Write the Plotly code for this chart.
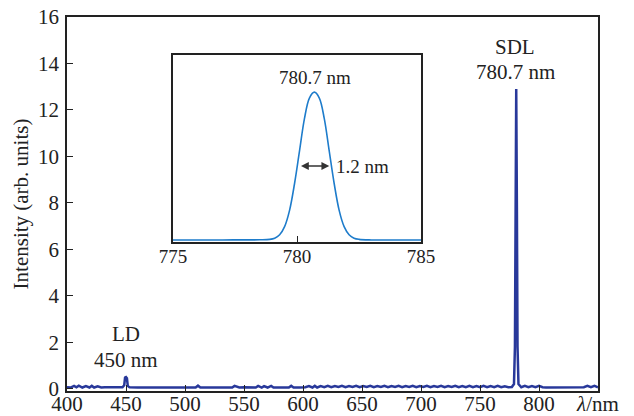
import plotly.graph_objects as go

# ---------------- data ----------------
main_wl = [400, 403, 406, 408, 410, 413, 416, 419, 421, 423, 426, 429, 432, 438, 444, 447, 448.5, 449.2, 450, 450.8, 451.5, 453,
           460, 475, 490, 505, 509, 511, 513, 525, 535, 540, 542, 546, 550, 556, 560, 562, 565, 567, 570, 573, 575, 580,
           588, 590, 592, 597, 602, 605, 608, 610, 612, 615, 618, 621, 624, 627, 630, 633, 636, 639, 642, 645, 648, 651,
           654, 657, 660, 663, 666, 669, 672, 675, 678, 681, 684, 687, 690, 693, 696, 699, 702, 705, 708, 711, 714, 717,
           720, 723, 726, 729, 732, 735, 738, 741, 744, 747, 750, 753, 756, 759, 762, 765, 768, 771, 774, 777, 778.8,
           779.6, 780.1, 780.7, 781.3, 781.8, 782.6, 785, 788, 791, 794, 797, 800, 803, 806, 812, 820, 830, 838, 841, 844, 847, 850]
main_int = [0.06, 0.05, 0.12, 0.06, 0.13, 0.05, 0.11, 0.05, 0.12, 0.05, 0.10, 0.05, 0.06, 0.05, 0.06, 0.06, 0.15, 0.48, 0.5, 0.45, 0.12, 0.06,
            0.05, 0.05, 0.05, 0.05, 0.05, 0.13, 0.05, 0.05, 0.05, 0.05, 0.12, 0.05, 0.06, 0.05, 0.05, 0.12, 0.05, 0.11, 0.05, 0.12, 0.05, 0.05,
            0.05, 0.12, 0.05, 0.05, 0.06, 0.11, 0.05, 0.12, 0.05, 0.11, 0.06, 0.12, 0.06, 0.11, 0.07, 0.12, 0.06, 0.11, 0.07, 0.12, 0.06, 0.11,
            0.07, 0.12, 0.06, 0.11, 0.07, 0.12, 0.06, 0.11, 0.07, 0.12, 0.06, 0.11, 0.07, 0.12, 0.06, 0.11, 0.07, 0.12, 0.06, 0.11, 0.07, 0.12,
            0.06, 0.11, 0.07, 0.12, 0.06, 0.11, 0.06, 0.12, 0.06, 0.11, 0.06, 0.12, 0.06, 0.11, 0.06, 0.12, 0.06, 0.10, 0.06, 0.07, 0.2,
            1.8, 7.5, 12.9, 7.5, 1.8, 0.2, 0.06, 0.12, 0.06, 0.11, 0.06, 0.12, 0.06, 0.05, 0.05, 0.05, 0.06, 0.06, 0.12, 0.06, 0.12, 0.06]

inset_wl = [775, 777, 778.5, 778.9, 779.1, 779.3, 779.5, 779.7, 779.9, 780.1, 780.3, 780.5, 780.7, 780.9, 781.1, 781.3,
            781.5, 781.7, 781.9, 782.1, 782.3, 782.5, 783, 785]
inset_int = [0.0, 0.0, 0.001, 0.004, 0.012, 0.035, 0.09, 0.20, 0.38, 0.60, 0.82, 0.96, 1.0, 0.96, 0.82, 0.60,
             0.38, 0.20, 0.09, 0.035, 0.012, 0.004, 0.0, 0.0]

x_ticks = [400, 450, 500, 550, 600, 650, 700, 750, 800, 850]
x_ticktext = ["400", "450", "500", "550", "600", "650", "700", "750", "800", "<i>λ</i>/nm"]
y_ticks = [0, 2, 4, 6, 8, 10, 12, 14, 16]
inset_ticks = [775, 780, 785]

FONT = "Liberation Serif"
MAIN_COLOR = "#28389a"
INSET_COLOR = "#1e7ccb"

fig = go.Figure()
fig.add_trace(go.Scatter(x=main_wl, y=main_int, mode="lines",
                         line=dict(color=MAIN_COLOR, width=2.5), xaxis="x", yaxis="y",
                         showlegend=False, hoverinfo="skip"))
fig.add_trace(go.Scatter(x=inset_wl, y=inset_int, mode="lines", line_shape="spline",
                         line=dict(color=INSET_COLOR, width=1.6), xaxis="x2", yaxis="y2",
                         showlegend=False, hoverinfo="skip"))

axis_common = dict(showline=True, linecolor="#222", linewidth=1.5, mirror=True, automargin=False,
                   ticks="inside", tickcolor="#222", showgrid=False, zeroline=False)

fig.update_layout(
    width=634, height=416,
    margin=dict(l=67, r=36, t=17, b=25),
    paper_bgcolor="white", plot_bgcolor="white",
    font=dict(family=FONT, color="#222"),
    xaxis=dict(range=[400, 850], tickvals=x_ticks, ticktext=x_ticktext, ticklen=6,
               tickfont=dict(family=FONT, size=21, color="#222"), ticklabelstandoff=-7, **axis_common),
    yaxis=dict(range=[-0.1, 16], tickvals=y_ticks, ticklen=6,
               tickfont=dict(family=FONT, size=21, color="#222"), ticklabelstandoff=2,
               title=dict(text="Intensity (arb. units)", font=dict(family=FONT, size=21), standoff=4),
               **axis_common),
    xaxis2=dict(domain=[0.1996, 0.6667], anchor="y2", range=[775, 785], tickvals=inset_ticks, ticklen=6,
                tickfont=dict(family=FONT, size=19, color="#222"), ticklabelstandoff=-4, **axis_common),
    yaxis2=dict(domain=[0.398, 0.898], anchor="x2", range=[-0.015, 1.25], showticklabels=False,
                showline=True, linecolor="#222", linewidth=1.5, mirror=True, ticks="",
                showgrid=False, zeroline=False),
)

ann_font = dict(family=FONT, size=21, color="#222")
fig.add_annotation(x=450, y=2.35, xref="x", yref="y", text="LD", showarrow=False, font=ann_font)
fig.add_annotation(x=450, y=1.24, xref="x", yref="y", text="450 nm", showarrow=False, font=ann_font)
fig.add_annotation(x=779.7, y=14.7, xref="x", yref="y", text="SDL", showarrow=False, font=ann_font)
fig.add_annotation(x=779.7, y=13.65, xref="x", yref="y", text="780.7 nm", showarrow=False, font=ann_font)

inset_font = dict(family=FONT, size=19, color="#222")
fig.add_annotation(x=780.73, y=1.10, xref="x2", yref="y2", text="780.7 nm", showarrow=False, font=inset_font)
fig.add_annotation(x=781.5, y=0.5, xref="x2", yref="y2", text="1.2 nm", showarrow=False,
                   xanchor="left", font=inset_font)
fig.add_annotation(x=781.3, y=0.5, xref="x2", yref="y2", ax=780.1, ay=0.5, axref="x2", ayref="y2",
                   text="", showarrow=True, arrowhead=2, arrowside="end+start", arrowsize=1.2,
                   arrowwidth=1.3, arrowcolor="#333")

fig.write_html("out.html")
